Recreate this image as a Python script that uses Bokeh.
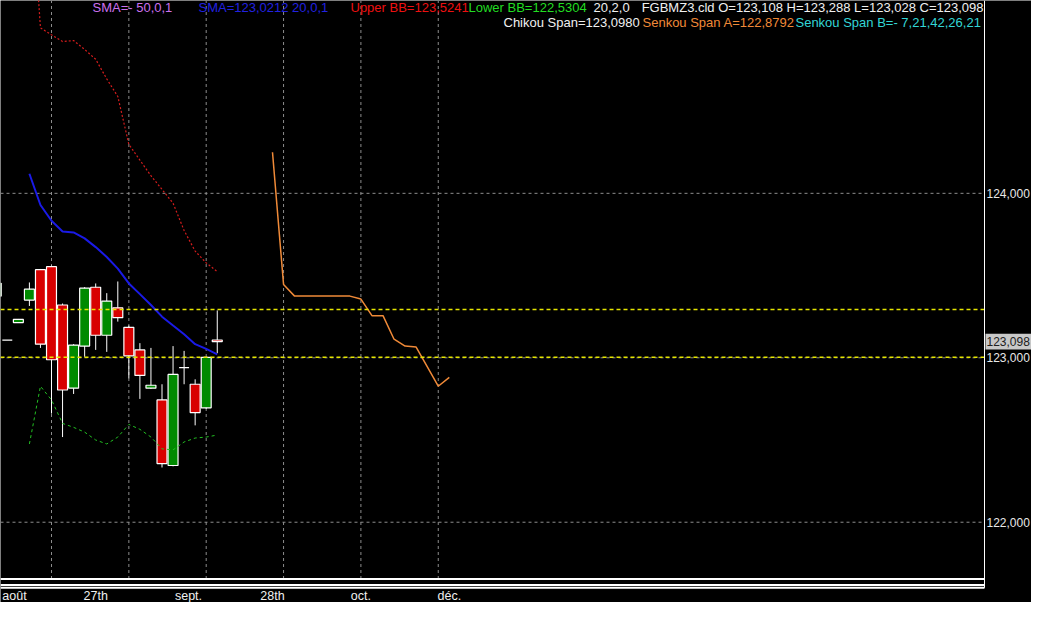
from bokeh.plotting import figure
from bokeh.models import ColumnDataSource, Range1d
from bokeh.core.properties import value
from bokeh.embed import file_html
from bokeh.resources import INLINE

# ---------------- data ----------------
bar_index = list(range(-5, 16))
opens  = [123.375, 123.107, 123.214, 123.351, 123.536, 123.554, 123.321, 122.815, 123.071, 123.429, 123.137,
          123.304, 123.185, 123.048, 122.815, 122.744, 122.345, 122.940, 122.839, 122.696, 123.108]
highs  = [123.460, 123.107, 123.236, 123.458, 123.540, 123.560, 123.330, 123.083, 123.430, 123.452, 123.393,
          123.464, 123.196, 123.089, 123.060, 122.839, 123.071, 123.042, 122.869, 123.003, 123.288]
lows   = [123.370, 123.107, 123.212, 123.315, 123.060, 122.661, 122.518, 122.780, 123.006, 123.048, 123.036,
          123.220, 122.875, 122.750, 122.810, 122.333, 122.340, 122.839, 122.589, 122.690, 123.028]
closes = [123.452, 123.107, 123.234, 123.417, 123.083, 122.988, 122.804, 123.077, 123.423, 123.137, 123.345,
          123.244, 123.012, 122.893, 122.833, 122.357, 122.899, 122.940, 122.667, 123.003, 123.098]

ind_index = list(range(-2, 16))
sma20    = [124.119, 123.929, 123.833, 123.768, 123.762, 123.726, 123.673, 123.613, 123.542,
            123.452, 123.387, 123.321, 123.250, 123.196, 123.143, 123.083, 123.054, 123.021]
upper_bb = [126.000, 125.006, 124.964, 124.923, 124.929, 124.875, 124.815, 124.696, 124.589,
            124.298, 124.202, 124.107, 124.024, 123.940, 123.774, 123.649, 123.577, 123.524]
lower_bb = [122.476, 122.827, 122.744, 122.601, 122.577, 122.548, 122.500, 122.476, 122.518,
            122.595, 122.565, 122.518, 122.446, 122.440, 122.488, 122.512, 122.518, 122.530]

senkou_index = list(range(20, 37))
senkou_a = [124.250, 123.446, 123.375, 123.375, 123.375, 123.375, 123.375, 123.375, 123.357,
            123.256, 123.256, 123.113, 123.071, 123.065, 122.946, 122.827, 122.881]

price_ticks = [122, 123, 124]
price_tick_labels = ["122,000", "123,000", "124,000"]
time_ticks = [-3.35, 4, 12.4, 20, 28, 36]
time_tick_labels = ["août", "27th", "sept.", "28th", "oct.", "déc."]
grid_bars = [0, 7, 14, 21, 28, 35]
marker_levels = [123.293, 123.004]
last_close = 123.098
last_close_text = "123,098"

# (text, colour, reference pixel, alignment)
header_row1 = [
    ("SMA=-  50,0,1", "#cc70ee", 92, "left"),
    ("SMA=123,0212  20,0,1", "#2222e0", 198, "left"),
    ("Upper BB=123,5241", "#ee1010", 350, "left"),
    ("Lower BB=122,5304", "#22dd22", 468, "left"),
    ("20,2,0", "#f0f0f0", 593, "left"),
    ("FGBMZ3.cld O=123,108 H=123,288 L=123,028 C=123,098", "#f0f0f0", 983, "right"),
]
header_row2 = [
    ("Chikou Span=123,0980", "#f0f0f0", 503, "left"),
    ("Senkou Span A=122,8792", "#f08a38", 642, "left"),
    ("Senkou Span B=-  7,21,42,26,21", "#33d6d6", 984, "right"),
]

# ---------------- layout helpers (reference pixel -> data) ----------------
BAR_PX = 11.05
X0_PX = 51.0
def dx(px):
    return (px - X0_PX) / BAR_PX
def dy(py):
    return 123 + (365 - py) / 168.0

W, H = 1031, 602
AXIS_PX = 984          # right price-axis line
FRAME_BOTTOM_PX = 591  # bottom of price area
FONT = value("Liberation Sans")

p = figure(width=W, height=H, x_range=Range1d(dx(0), dx(W)), y_range=Range1d(dy(615), dy(0)),
           x_axis_location=None, y_axis_location=None, output_backend="svg",
           toolbar_location=None, background_fill_color="black", border_fill_color="black",
           min_border=0)
p.outline_line_color = None
p.xgrid.visible = False
p.ygrid.visible = False

x_left, x_axis = dx(0), dx(AXIS_PX)
y_top, y_floor = dy(0), dy(FRAME_BOTTOM_PX)

# grid lines
p.segment(x0=grid_bars, y0=[y_floor] * len(grid_bars), x1=grid_bars, y1=[y_top] * len(grid_bars),
          line_color="#8c8c8c", line_dash="3 3", line_width=1)
p.segment(x0=[x_left] * len(price_ticks), y0=price_ticks, x1=[x_axis] * len(price_ticks), y1=price_ticks,
          line_color="#8c8c8c", line_dash="3 3", line_width=1)

# candles
tops = [max(o, c) for o, c in zip(opens, closes)]
bots = [min(o, c) for o, c in zip(opens, closes)]
cols = ["#008a00" if c >= o else "#d80000" for o, c in zip(opens, closes)]
src = ColumnDataSource(dict(x=bar_index, h=highs, l=lows, top=tops, bot=bots, col=cols))
p.segment(x0="x", y0="h", x1="x", y1="l", source=src, line_color="white", line_width=1)
p.vbar(x="x", top="top", bottom="bot", width=0.9, source=src,
       fill_color="col", line_color="white", line_width=1.2)

# indicators
p.line(ind_index, upper_bb, line_color="#d41c1c", line_width=1.2, line_dash="2 2")
p.line(ind_index, lower_bb, line_color="#22c022", line_width=1, line_dash="3 3")
p.line(ind_index, sma20, line_color="#1a1ae6", line_width=2)
p.line(senkou_index, senkou_a, line_color="#f08a38", line_width=1.5)

# yellow marker levels
p.segment(x0=[x_left] * len(marker_levels), y0=marker_levels, x1=[x_axis] * len(marker_levels),
          y1=marker_levels, line_color="#e6e600", line_dash="4 3", line_width=1.5)

# frame rules (bottom triple line + right axis line)
rule_y = [dy(FRAME_BOTTOM_PX), dy(597), dy(600)]
p.segment(x0=[x_left] * 3, y0=rule_y, x1=[x_axis] * 3, y1=rule_y, line_color="white", line_width=2)
p.segment(x0=[x_axis], y0=[dy(600)], x1=[x_axis], y1=[y_top], line_color="white", line_width=1)

# price axis labels
p.text(x=[dx(AXIS_PX + 2)] * len(price_ticks), y=price_ticks, text=price_tick_labels,
       text_color="#e8e8e8", text_font=FONT, text_font_size="12px",
       text_baseline="middle", text_align="left")

# last price tag
p.rect(x=[(dx(AXIS_PX + 1) + dx(W)) / 2], y=[last_close], width=dx(W) - dx(AXIS_PX + 1),
       height=16 / 168.0, fill_color="#c8c8c8", line_color=None)
p.text(x=[dx(AXIS_PX + 2)], y=[last_close], text=[last_close_text], text_color="#202020",
       text_font=FONT, text_font_size="12px", text_baseline="middle", text_align="left")

# time axis labels
p.text(x=time_ticks, y=[dy(608)] * len(time_ticks), text=time_tick_labels, text_color="#f0f0f0",
       text_font=FONT, text_font_size="12.5px", text_baseline="middle", text_align="center")

# header texts (top row kept fully inside the canvas)
for row, base_px in ((header_row1, 6.8), (header_row2, 22.5)):
    for txt, col, px, align in row:
        p.text(x=[dx(px)], y=[dy(base_px)], text=[txt], text_color=col, text_font=FONT,
               text_font_size="13px", text_baseline="alphabetic", text_align=align)

open("out.html", "w").write(file_html(p, INLINE))
